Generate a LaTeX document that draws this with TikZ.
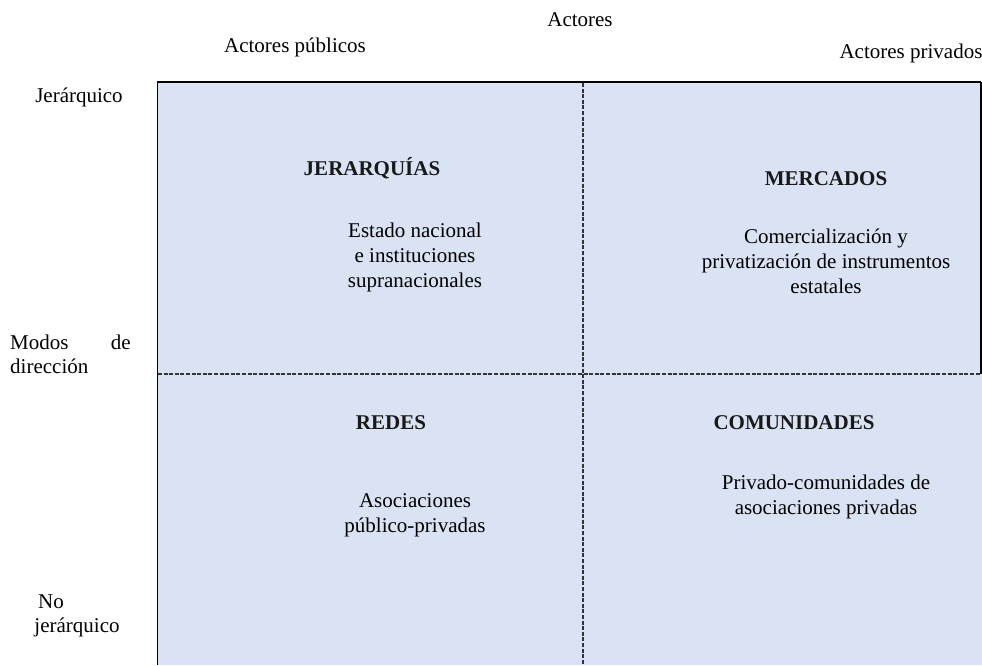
\documentclass[tikz,border=0pt]{standalone}
\usepackage{fontspec}
\setmainfont{Liberation Serif}
\definecolor{quadfill}{RGB}{218,227,243}
\definecolor{dashgray}{RGB}{50,52,58}
\tikzset{
  lbl/.style={inner sep=0pt, font=\fontsize{21}{25}\selectfont, align=center},
  ttl/.style={inner sep=0pt, font=\fontsize{21}{25}\selectfont\bfseries, text=black!90},
  divider/.style={draw=dashgray, line width=1.4pt, dash pattern=on 4pt off 1.6pt},
  border/.style={draw=black, line width=1.8pt}
}
\begin{document}
\begin{tikzpicture}[x=1pt,y=-1pt]
\useasboundingbox (0,0) rectangle (982,665);
% filled quadrant area
\fill[quadfill] (157,82) rectangle (982,665);
% borders
\draw[black, line width=1.2pt] (157,82) -- (981,82);
\draw[black, line width=1pt] (157,82) -- (157,117);
\draw[border] (157.5,117) -- (157.5,665);
\draw[black, line width=1.4pt] (981,82) -- (981,374);
% dividers
\coordinate (vt) at (583,83);
\coordinate (vb) at (583,665);
\coordinate (hl) at (158,374);
\coordinate (hr) at (981,374);
\draw[divider] (vt) -- (vb);
\draw[divider] (hl) -- (hr);
% top labels
\node[lbl] (act) at (580,20) {Actores};
\node[lbl] (pub) at (295,47) {Actores públicos};
\node[lbl] (priv) at (911,53) {Actores privados};
% left labels
\node[lbl] (jer) at (79,97) {Jerárquico};
\node[lbl, anchor=west] (modos) at (10,342) {Modos};
\node[lbl, anchor=east] (de) at (131,342) {de};
\node[lbl, anchor=west] (dir) at (10,366) {dirección};
\node[lbl] (no) at (51,602) {No};
\node[lbl] (nojer) at (77,627) {jerárquico};
% quadrant titles
\node[ttl] (jerq) at (372,168) {JERARQUÍAS};
\node[ttl] (merc) at (826,179) {MERCADOS};
\node[ttl] (redes) at (391,423) {REDES};
\node[ttl] (comu) at (794,423) {COMUNIDADES};
% quadrant descriptions
\node[lbl] (estado) at (415,257) {Estado nacional\\e instituciones\\supranacionales};
\node[lbl] (comerc) at (826,261) {Comercialización y\\privatización de instrumentos\\estatales};
\node[lbl] (asoc) at (415,515) {Asociaciones\\público-privadas};
\node[lbl] (privc) at (826,497) {Privado-comunidades de\\asociaciones privadas};
\end{tikzpicture}
\end{document}
